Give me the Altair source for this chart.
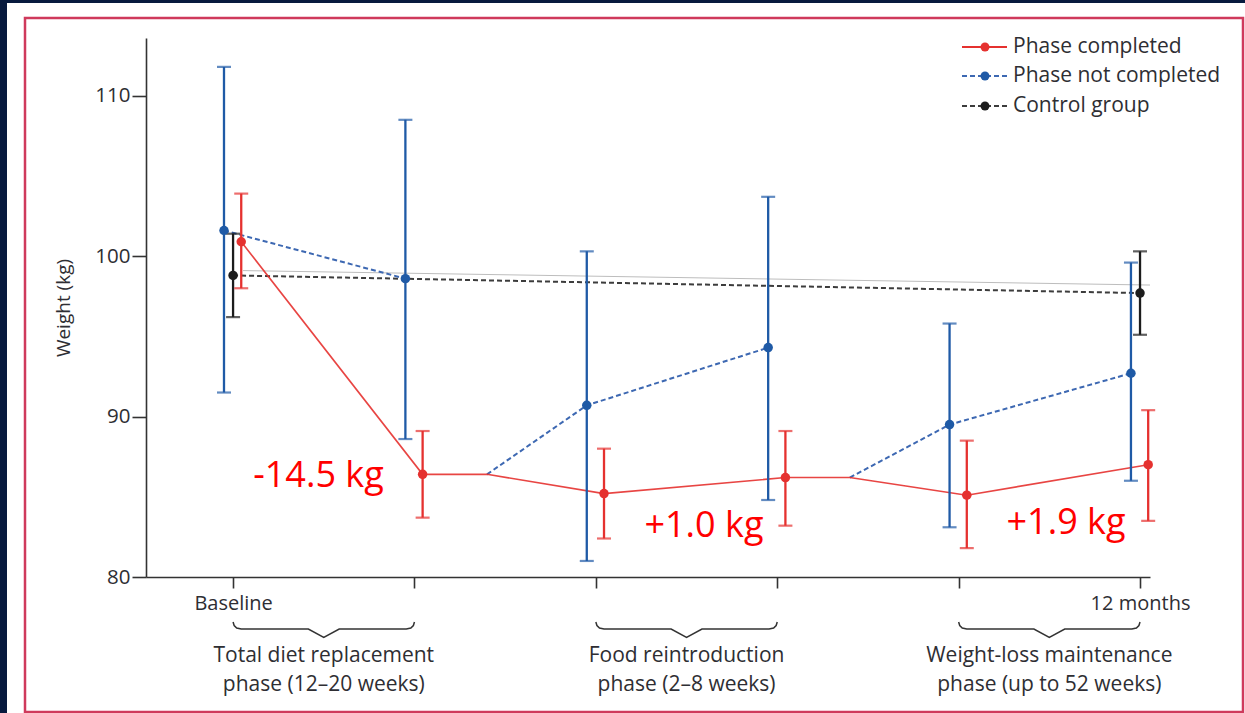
import json
import altair as alt
import pandas as pd

# ---- data -------------------------------------------------------------
# x positions: 0 = baseline, 1..4 = phase boundaries, 5 = 12 months
TIMEPOINTS = [0, 1, 2, 3, 4, 5]
TICK_LABELS = ["Baseline", "", "", "", "", "12 months"]

# Weight (kg), mean with 95% CI
COMPLETED_MEAN = [100.9, 86.4, 85.2, 86.2, 85.1, 87.0]
COMPLETED_LOW = [98.0, 83.7, 82.4, 83.2, 81.8, 83.5]
COMPLETED_HIGH = [103.9, 89.1, 88.0, 89.1, 88.5, 90.4]

NOT_COMPLETED_MEAN = [101.6, 98.6, 90.7, 94.3, 89.5, 92.7]
NOT_COMPLETED_LOW = [91.5, 88.6, 81.0, 84.8, 83.1, 86.0]
NOT_COMPLETED_HIGH = [111.8, 108.5, 100.3, 103.7, 95.8, 99.6]

CONTROL_TIMEPOINTS = [0, 5]
CONTROL_MEAN = [98.8, 97.7]
CONTROL_LOW = [96.2, 95.1]
CONTROL_HIGH = [101.4, 100.3]

# non-completers branch off the completers' path part-way through a phase
SPLIT_TIMES = [1.4, 3.4]
SPLIT_FROM = [1, 3]

# faint guide line drawn just above the control trend
CONTROL_GUIDE_X = [0.055, 5.055]
CONTROL_GUIDE_Y = [99.1, 98.2]

PHASE_SPANS = [(0, 1), (2, 3), (4, 5)]
PHASE_LABELS = [
    ("Total diet replacement", "phase (12\u201320 weeks)"),
    ("Food reintroduction", "phase (2\u20138 weeks)"),
    ("Weight-loss maintenance", "phase (up to 52 weeks)"),
]

LEGEND_LABELS = ["Phase completed", "Phase not completed", "Control group"]

# ---- style ------------------------------------------------------------
FONT = "Open Sans"
NAVY = "#071a3e"
BORDER = "#cf3a5c"
RED = "#e5312f"
BLUE = "#1f5aa6"
BLUE_LINE = "#3d68b2"
BLACK = "#1c1c1c"
GREY_LINE = "#3c3c3c"
AXIS_COL = "#333333"
TEXT_COL = "#2e2e33"
ANNOT_COL = "#ff0000"

DODGE = {"completed": 0.045, "not": -0.05, "control": 0.0}
SERIES_COLOR = {"completed": RED, "not": BLUE, "control": BLACK}

W, H = 1004, 539
PAD = {"left": 146, "top": 38, "right": 95, "bottom": 136}

# change labels placed beside each phase (x, y in data units, text baseline)
ANNOT_POS = [(0.471, 85.63), (2.596, 82.51), (4.592, 82.68)]
ANNOT_PAIRS = [(0, 1), (2, 3), (4, 5)]

xscale = alt.Scale(domain=[-0.48, 5.055], nice=False, zero=False)
yscale = alt.Scale(domain=[80, 113.6], nice=False, zero=False)

x_axis = alt.Axis(
    values=TIMEPOINTS,
    labelExpr=json.dumps(TICK_LABELS) + "[datum.value]",
    title=None, grid=False,
    domainColor=AXIS_COL, domainWidth=1.6,
    tickColor=AXIS_COL, tickWidth=1.6, tickSize=11,
    labelFont=FONT, labelFontSize=20, labelColor=TEXT_COL,
    labelPadding=5, labelOverlap=False, labelFlush=False, zindex=1,
)
y_axis = alt.Axis(
    values=[80, 90, 100, 110], title="Weight (kg)", grid=False,
    domainColor=AXIS_COL, domainWidth=1.6,
    tickColor=AXIS_COL, tickWidth=1.6, tickSize=14,
    labelFont=FONT, labelFontSize=20.5, labelColor=TEXT_COL, labelPadding=2,
    titleFont=FONT, titleFontSize=19, titleFontWeight="normal",
    titleColor=TEXT_COL, titlePadding=21, zindex=1,
)

X = lambda f="x": alt.X(f"{f}:Q", scale=xscale, axis=x_axis)
Y = lambda f="y": alt.Y(f"{f}:Q", scale=yscale, axis=y_axis)

one = pd.DataFrame({"k": [0]})

# ---- page frame -------------------------------------------------------
panel = alt.Chart(one).mark_rect(color="white").encode(
    x=alt.value(-139), x2=alt.value(1100), y=alt.value(-35), y2=alt.value(676)
)
frame = alt.Chart(one).mark_rect(fill=None, stroke=BORDER, strokeWidth=2.5).encode(
    x=alt.value(-121), x2=alt.value(1097), y=alt.value(-20), y2=alt.value(674)
)

# ---- series points / error bars --------------------------------------
rows = []
for i, t in enumerate(TIMEPOINTS):
    rows.append(dict(s="completed", x=t + DODGE["completed"], y=COMPLETED_MEAN[i],
                     lo=COMPLETED_LOW[i], hi=COMPLETED_HIGH[i]))
    rows.append(dict(s="not", x=t + DODGE["not"], y=NOT_COMPLETED_MEAN[i],
                     lo=NOT_COMPLETED_LOW[i], hi=NOT_COMPLETED_HIGH[i]))
for i, t in enumerate(CONTROL_TIMEPOINTS):
    rows.append(dict(s="control", x=t + DODGE["control"], y=CONTROL_MEAN[i],
                     lo=CONTROL_LOW[i], hi=CONTROL_HIGH[i]))
pts = pd.DataFrame(rows)
pts["col"] = pts["s"].map(SERIES_COLOR)

# completed path, with a flat stretch up to each split point
red_path = []
for i, t in enumerate(TIMEPOINTS):
    red_path.append((t + DODGE["completed"], COMPLETED_MEAN[i]))
    if i in SPLIT_FROM:
        red_path.append((SPLIT_TIMES[SPLIT_FROM.index(i)], COMPLETED_MEAN[i]))
red_df = pd.DataFrame([dict(o=k, x=a, y=b) for k, (a, b) in enumerate(red_path)])

# non-completer segments: baseline -> phase 1, then branches off the red path
blue_rows = []
blue_rows += [dict(seg=0, o=0, x=0 + DODGE["not"], y=NOT_COMPLETED_MEAN[0]),
              dict(seg=0, o=1, x=1 + DODGE["not"], y=NOT_COMPLETED_MEAN[1])]
for j, (st, src) in enumerate(zip(SPLIT_TIMES, SPLIT_FROM)):
    seg = j + 1
    blue_rows.append(dict(seg=seg, o=0, x=st, y=COMPLETED_MEAN[src]))
    for k in (1, 2):
        idx = src + k
        blue_rows.append(dict(seg=seg, o=k, x=TIMEPOINTS[idx] + DODGE["not"],
                              y=NOT_COMPLETED_MEAN[idx]))
blue_df = pd.DataFrame(blue_rows)

ctrl_df = pd.DataFrame(dict(x=[t + DODGE["control"] for t in CONTROL_TIMEPOINTS],
                            y=CONTROL_MEAN))
guide_df = pd.DataFrame(dict(x=CONTROL_GUIDE_X, y=CONTROL_GUIDE_Y))

guide = alt.Chart(guide_df).mark_line(color="#bdbdbd", strokeWidth=1).encode(x=X(), y=Y())
ctrl_line = alt.Chart(ctrl_df).mark_line(
    color=GREY_LINE, strokeWidth=2, strokeDash=[5, 3]).encode(x=X(), y=Y())
blue_line = alt.Chart(blue_df).mark_line(
    color=BLUE_LINE, strokeWidth=2, strokeDash=[5, 3]).encode(
    x=X(), y=Y(), detail="seg:N", order="o:Q")
red_line = alt.Chart(red_df).mark_line(color=RED, strokeWidth=1.6, opacity=0.9).encode(
    x=X(), y=Y(), order="o:Q")

err = alt.Chart(pts).mark_rule(strokeWidth=2.3).encode(
    x=X(), y=Y("lo"), y2="hi:Q", color=alt.Color("col:N", scale=None))
caps = alt.Chart(pts).transform_fold(["lo", "hi"], as_=["end", "v"]).mark_tick(
    orient="horizontal", size=14, thickness=2.2).encode(
    x=X(), y=Y("v"), color=alt.Color("col:N", scale=None))
dots = alt.Chart(pts).mark_point(filled=True, size=90, opacity=1).encode(
    x=X(), y=Y(), color=alt.Color("col:N", scale=None))

# ---- change annotations ----------------------------------------------
ann_rows = []
for (a, b), (ax, ay) in zip(ANNOT_PAIRS, ANNOT_POS):
    d = COMPLETED_MEAN[b] - COMPLETED_MEAN[a]
    ann_rows.append(dict(x=ax, y=ay, t=f"{d:+.1f} kg"))
ann = alt.Chart(pd.DataFrame(ann_rows)).mark_text(
    font=FONT, fontSize=36, color=ANNOT_COL, align="center", baseline="alphabetic"
).encode(x=X(), y=Y(), text="t:N")

# ---- phase braces and labels -----------------------------------------
BRACE_TOP = 584  # pixel offset below the top of the plot area
brace_rows = []
for p, (x0, x1) in enumerate(PHASE_SPANS):
    mid = (x0 + x1) / 2
    shape = [(x0, 0), (x0 + 0.006, 3.5), (x0 + 0.02, 6), (x0 + 0.045, 7),
             (mid - 0.085, 7), (mid, 15.5), (mid + 0.085, 7),
             (x1 - 0.045, 7), (x1 - 0.02, 6), (x1 - 0.006, 3.5), (x1, 0)]
    for k, (bx, by) in enumerate(shape):
        brace_rows.append(dict(p=p, o=k, x=bx, py=BRACE_TOP + by))
braces = alt.Chart(pd.DataFrame(brace_rows)).mark_line(
    color=AXIS_COL, strokeWidth=1.5).encode(
    x=X(), y=alt.Y("py:Q", scale=None), detail="p:N", order="o:Q")

phase_rows = []
for (x0, x1), (l1, l2) in zip(PHASE_SPANS, PHASE_LABELS):
    phase_rows.append(dict(x=(x0 + x1) / 2, py=618, t=l1))
    phase_rows.append(dict(x=(x0 + x1) / 2, py=647, t=l2))
phase_txt = alt.Chart(pd.DataFrame(phase_rows)).mark_text(
    font=FONT, fontSize=21, color=TEXT_COL, align="center", baseline="middle"
).encode(x=X(), y=alt.Y("py:Q", scale=None), text="t:N")

# ---- legend -----------------------------------------------------------
LEG_X0, LEG_X1, LEG_DOT, LEG_TX = 816, 861, 839, 867
LEG_Y = [9, 38, 68]
leg_styles = [(RED, RED, None, 1.8), (BLUE_LINE, BLUE, [5, 3], 2), (GREY_LINE, BLACK, [5, 3], 2)]
legend_layers = []
for lab, ly, (lc, pc, dash, lw) in zip(LEGEND_LABELS, LEG_Y, leg_styles):
    kw = dict(color=lc, strokeWidth=lw)
    if dash:
        kw["strokeDash"] = dash
    legend_layers.append(alt.Chart(one).mark_rule(**kw).encode(
        x=alt.value(LEG_X0), x2=alt.value(LEG_X1), y=alt.value(ly)))
    legend_layers.append(alt.Chart(one).mark_point(filled=True, size=80, color=pc, opacity=1).encode(
        x=alt.value(LEG_DOT), y=alt.value(ly)))
    legend_layers.append(alt.Chart(one).mark_text(
        text=lab, font=FONT, fontSize=21, color=TEXT_COL, align="left", baseline="middle"
    ).encode(x=alt.value(LEG_TX), y=alt.value(ly)))

chart = alt.layer(
    panel, frame, guide, ctrl_line, blue_line, red_line, err, caps, dots,
    ann, braces, phase_txt, *legend_layers
).properties(
    width=W, height=H, padding=PAD,
    autosize=alt.AutoSizeParams(type="none"), background=NAVY,
).configure_view(stroke=None)

chart.save("out.html", embed_options={"renderer": "svg", "actions": False})
